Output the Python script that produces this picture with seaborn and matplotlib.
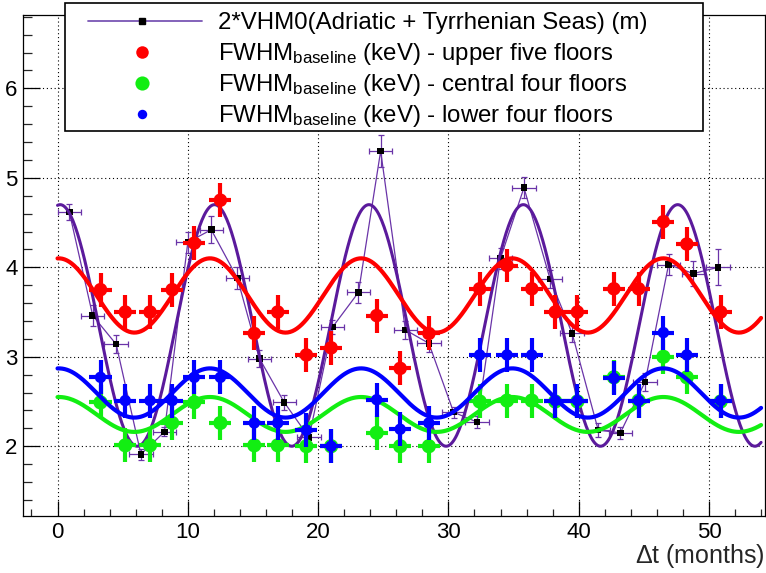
import numpy as np
import pandas as pd
import matplotlib
matplotlib.use("Agg")
import matplotlib.pyplot as plt
import seaborn as sns
from matplotlib.lines import Line2D
from matplotlib.patches import Rectangle
from matplotlib.ticker import MultipleLocator

# ---- 2*VHM0 (Adriatic + Tyrrhenian Seas), metres ----
vhm0_t = [0.9, 2.7, 4.5, 6.4, 8.2, 10.0, 11.8, 13.8, 15.5, 17.4, 19.3, 21.1, 23.1, 24.8,
          26.7, 28.5, 30.4, 32.2, 34.0, 35.8, 37.8, 39.5, 41.5, 43.2, 45.1, 46.9, 48.8, 50.7]
vhm0_val = [4.62, 3.46, 3.14, 1.91, 2.16, 4.28, 4.42, 3.88, 2.98, 2.49, 2.10, 3.33, 3.72, 5.30,
            3.30, 3.15, 2.38, 2.27, 4.10, 4.89, 3.87, 3.26, 2.18, 2.15, 2.72, 4.03, 3.93, 4.00]
vhm0_err = [0.09, 0.12, 0.10, 0.06, 0.05, 0.12, 0.15, 0.12, 0.10, 0.08, 0.06, 0.08, 0.12, 0.18,
            0.10, 0.10, 0.06, 0.07, 0.12, 0.12, 0.10, 0.10, 0.08, 0.07, 0.10, 0.12, 0.14, 0.20]
vhm0_terr = 0.9

# ---- FWHM of the baseline (keV) per tower section ----
months = [3.3, 5.2, 7.1, 8.8, 10.5, 12.5, 15.1, 16.9, 19.1, 21.0, 24.5, 26.3,
          28.5, 32.4, 34.5, 36.4, 38.2, 39.9, 42.7, 44.6, 46.5, 48.3, 50.9]
fwhm_upper = [3.75, 3.50, 3.50, 3.75, 4.27, 4.75, 3.26, 3.50, 3.02, 3.10, 3.46, 2.87,
              3.26, 3.76, 4.02, 3.76, 3.50, 3.50, 3.76, 3.76, 4.51, 4.26, 3.50]
fwhm_central = [2.49, 2.01, 2.01, 2.26, 2.49, 2.26, 2.01, 2.01, 2.00, 2.00, 2.15, 2.00,
                2.00, 2.50, 2.51, 2.51, 2.50, 2.50, 2.77, 2.51, 3.00, 2.77, 2.50]
fwhm_lower = [2.77, 2.51, 2.51, 2.51, 2.77, 2.77, 2.26, 2.26, 2.18, 2.00, 2.52, 2.19,
              2.26, 3.02, 3.02, 3.02, 2.51, 2.51, 2.76, 2.51, 3.27, 3.02, 2.51]
fwhm_err = 0.19
months_err = 0.85

# ---- sinusoidal fits: (offset, amplitude, period [months], time of maximum) ----
fit_vhm0 = (3.35, 1.35, 11.85, 0.2)
fit_upper = (3.685, 0.415, 11.6, 0.1)
fit_central = (2.355, 0.195, 11.6, 0.1)
fit_lower = (2.595, 0.275, 11.6, 0.1)
fit_range = (0.0, 54.0)

labels = [
    "2*VHM0(Adriatic + Tyrrhenian Seas) (m)",
    r"FWHM$_{\rm baseline}$ (keV) - upper five floors",
    r"FWHM$_{\rm baseline}$ (keV) - central four floors",
    r"FWHM$_{\rm baseline}$ (keV) - lower four floors",
]

PURPLE = "#5b1a9c"
PURPLE_THIN = "#6a34a8"
RED = "#ff0000"
GREEN = "#12ee12"
BLUE = "#0000ff"

sns.set_theme(style="white")
plt.rcParams["font.family"] = ["Liberation Sans", "DejaVu Sans"]
plt.rcParams["mathtext.fontset"] = "custom"
plt.rcParams["mathtext.rm"] = "Liberation Sans"
plt.rcParams["mathtext.it"] = "Liberation Sans:italic"
plt.rcParams["mathtext.bf"] = "Liberation Sans:bold"

W, H = 766, 573
fig = plt.figure(figsize=(W / 100, H / 100), dpi=100)
fig.patch.set_facecolor("white")
ax = fig.add_axes([23 / W, 57 / H, 742 / W, 501 / H])
ax.set_facecolor("white")


def fit_frame(params):
    off, amp, per, tmax = params
    t = np.linspace(fit_range[0], fit_range[1], 600)
    return pd.DataFrame({"t": t, "v": off + amp * np.cos(2 * np.pi * (t - tmax) / per)})


# VHM0: connecting line, error bars, points and fit
vdf = pd.DataFrame({"t": vhm0_t, "v": vhm0_val})
sns.lineplot(data=vdf, x="t", y="v", sort=False, color=PURPLE_THIN, lw=0.9, ax=ax, zorder=3)
ax.errorbar(vhm0_t, vhm0_val, xerr=vhm0_terr, yerr=vhm0_err, fmt="none",
            ecolor=PURPLE_THIN, elinewidth=0.9, capsize=2.5, capthick=0.9, zorder=3)
sns.scatterplot(data=vdf, x="t", y="v", marker="s", s=22, color="black",
                edgecolor="none", ax=ax, zorder=4)
sns.lineplot(data=fit_frame(fit_vhm0), x="t", y="v", color=PURPLE, lw=2.2, ax=ax, zorder=4)

# FWHM series: upper, central, lower
series = [
    (fwhm_upper, fit_upper, RED, 95),
    (fwhm_central, fit_central, GREEN, 105),
    (fwhm_lower, fit_lower, BLUE, 68),
]
for i, (vals, fit, col, size) in enumerate(series):
    z = 5 + i
    df = pd.DataFrame({"t": months, "v": vals})
    ax.errorbar(months, vals, xerr=months_err, yerr=fwhm_err, fmt="none",
                ecolor=col, elinewidth=3.0, capsize=0, zorder=z)
    sns.scatterplot(data=df, x="t", y="v", s=size, color=col, edgecolor="none",
                    ax=ax, zorder=z)
    sns.lineplot(data=fit_frame(fit), x="t", y="v", color=col, lw=3.0, ax=ax, zorder=z)

ax.set_xlim(-2.65, 54.3)
ax.set_ylim(1.22, 6.82)
ax.set_xlabel("")
ax.set_ylabel("")

ax.xaxis.set_major_locator(MultipleLocator(10))
ax.xaxis.set_minor_locator(MultipleLocator(2))
ax.yaxis.set_major_locator(MultipleLocator(1))
ax.yaxis.set_minor_locator(MultipleLocator(0.2))
ax.yaxis.set_major_formatter(matplotlib.ticker.FuncFormatter(lambda v, p: f"{v:g}"))
ax.tick_params(axis="x", which="major", direction="in", length=10.5, width=0.9,
               labelsize=16, pad=4, colors="black", bottom=True, top=False)
ax.tick_params(axis="x", which="minor", direction="in", length=5.2, width=0.9,
               bottom=True, top=False)
ax.tick_params(axis="y", which="major", direction="in", length=12.5, width=0.9,
               labelsize=16, pad=4, colors="black", left=True, right=False)
ax.tick_params(axis="y", which="minor", direction="in", length=6.5, width=0.9,
               left=True, right=False)
ax.grid(True, which="major", color="black", linestyle=(0, (1, 2.5)), linewidth=0.8)
for s in ax.spines.values():
    s.set_color("black")
    s.set_linewidth(0.9)
    s.set_visible(True)

fig.text(765 / W, 1 - 556 / H, r"$\Delta$t (months)", ha="right", va="center", fontsize=18)

# ---- legend box ----
def fx(px):
    return px / W


def fy(py):
    return 1 - py / H


leg = Rectangle((fx(65), fy(131)), fx(703) - fx(65), fy(3) - fy(131),
                transform=fig.transFigure, facecolor="white", edgecolor="black",
                linewidth=1.2, zorder=20)
fig.add_artist(leg)
rows = [21, 52, 83, 114]
fig.add_artist(Line2D([fx(88), fx(202)], [fy(rows[0])] * 2, transform=fig.transFigure,
                      color="#7a56b4", lw=1.3, zorder=21))
fig.add_artist(Line2D([fx(142)], [fy(rows[0])], transform=fig.transFigure, marker="s",
                      markersize=4.2, color="black", lw=0, zorder=22))
fig.add_artist(Line2D([fx(142)], [fy(rows[1])], transform=fig.transFigure, marker="o",
                      markersize=9.0, color=RED, mec="none", lw=0, zorder=22))
fig.add_artist(Line2D([fx(142)], [fy(rows[2])], transform=fig.transFigure, marker="o",
                      markersize=10.2, color=GREEN, mec="none", lw=0, zorder=22))
fig.add_artist(Line2D([fx(142)], [fy(rows[3])], transform=fig.transFigure, marker="o",
                      markersize=6.8, color=BLUE, mec="none", lw=0, zorder=22))
for r, lab in zip(rows, labels):
    fig.text(fx(218), fy(r + 8), lab, ha="left", va="baseline", fontsize=17.3,
             color="black", zorder=23)

fig.savefig("out.png", dpi=100, facecolor="white")
